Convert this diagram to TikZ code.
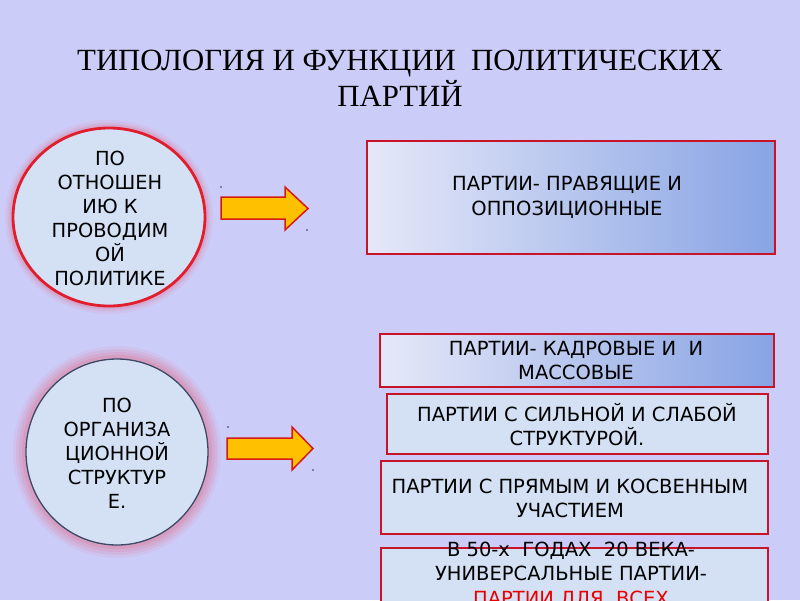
\documentclass[tikz,border=0pt]{standalone}
\usepackage{fontspec}
\setmainfont{DejaVu Sans}
\newfontfamily\titlefont{Liberation Serif}
\usetikzlibrary{shapes.geometric}
\definecolor{bg}{RGB}{204,204,248}
\definecolor{texfill}{RGB}{212,225,245}
\definecolor{boxred}{RGB}{200,20,40}
\definecolor{arrowfill}{RGB}{255,192,0}
\definecolor{arrowline}{RGB}{215,25,20}
\definecolor{gradL}{RGB}{230,232,248}
\definecolor{gradR}{RGB}{136,164,228}
\definecolor{glowpink}{RGB}{225,120,150}
\definecolor{slate}{RGB}{60,72,100}
\definecolor{circred}{RGB}{225,30,45}
\definecolor{dotc}{RGB}{70,40,90}
\definecolor{redtext}{RGB}{235,0,0}
\tikzset{
  bodytext/.style={font=\fontsize{19.5}{24.5}\selectfont, align=center, text=black, inner sep=0pt},
  circtext/.style={font=\fontsize{19.4}{24}\selectfont, align=center, text=black, inner sep=0pt},
  plainbox/.style={draw=boxred, line width=1.6pt, fill=texfill, rectangle, inner sep=0pt},
  gradbox/.style={draw=boxred, line width=1.6pt, rectangle, inner sep=0pt, left color=gradL, right color=gradR},
  blockarrow/.style={fill=arrowfill, draw=arrowline, line width=1.5pt, line join=miter},
  ovalshape/.style={ellipse, inner sep=0pt, fill=texfill},
}
\begin{document}
\begin{tikzpicture}[x=1pt,y=-1pt]
\useasboundingbox (0,0) rectangle (800,600);
\clip (0,0) rectangle (800,600);
\fill[bg] (0,0) rectangle (800,600);

% title
\node[font=\titlefont\fontsize{30.8}{36}\selectfont, align=center, inner sep=0pt] (title) at (400,78)
  {ТИПОЛОГИЯ И ФУНКЦИИ\ \ ПОЛИТИЧЕСКИХ\\ПАРТИЙ};

% circle 1 glow
\foreach \w/\o in {16/0.10,11/0.15,7/0.25}
  \draw[glowpink, opacity=\o, line width=\w pt] (109,217) ellipse [x radius=96, y radius=89];
\node[ovalshape, draw=circred, line width=2.8pt, minimum width=192, minimum height=178] (c1) at (109,217) {};
\node[circtext] (c1t) at (110,218) {ПО\\ОТНОШЕН\\ИЮ К\\ПРОВОДИМ\\ОЙ\\ПОЛИТИКЕ};

% circle 2 glow
\foreach \w/\o in {26/0.10,20/0.15,14/0.2,8/0.25}
  \draw[glowpink, opacity=\o, line width=\w pt] (117,452) ellipse [x radius=91, y radius=93];
\node[ovalshape, draw=slate, line width=1.3pt, minimum width=182, minimum height=186] (c2) at (117,452) {};
\node[circtext] (c2t) at (117,453.5) {ПО\\ОРГАНИЗА\\ЦИОННОЙ\\СТРУКТУР\\Е.};

% arrows
\draw[blockarrow] (221,197) -- (285,197) -- (285,187) -- (308,208.5) -- (285,230) -- (285,219) -- (221,219) -- cycle;
\draw[blockarrow] (227,438) -- (292,438) -- (292,427) -- (313,448.5) -- (292,470) -- (292,459) -- (227,459) -- cycle;
\fill[dotc] (221,187) circle (0.9pt);
\fill[dotc] (307,230) circle (0.9pt);
\fill[dotc] (228,427) circle (0.9pt);
\fill[dotc] (313,470) circle (0.9pt);

% boxes
\node[gradbox, minimum width=408, minimum height=113] (b1) at (571,197.5) {};
\node[bodytext] (b1t) at (567,197.5) {ПАРТИИ- ПРАВЯЩИЕ И\\ОППОЗИЦИОННЫЕ};

\node[gradbox, minimum width=394, minimum height=53] (b2) at (577,360.5) {};
\node[bodytext] (b2t) at (576,360.5) {ПАРТИИ- КАДРОВЫЕ И\ \ И\\МАССОВЫЕ};

\node[plainbox, minimum width=381, minimum height=60] (b3) at (577.5,424) {};
\node[bodytext] (b3t) at (577,424.5) {ПАРТИИ С СИЛЬНОЙ И СЛАБОЙ\\СТРУКТУРОЙ.};

\node[plainbox, minimum width=387, minimum height=73] (b4) at (574.5,497.5) {};
\node[bodytext] (b4t) at (570,498.5) {ПАРТИИ С ПРЯМЫМ И КОСВЕННЫМ\\УЧАСТИЕМ};

\node[plainbox, minimum width=387, minimum height=72] (b5) at (574.5,584) {};
\node[bodytext] (b5t) at (571,575) {В 50-х\ \ ГОДАХ\ \ 20 ВЕКА-\\УНИВЕРСАЛЬНЫЕ ПАРТИИ-\\\textcolor{redtext}{ПАРТИИ ДЛЯ\ \ ВСЕХ}};
\end{tikzpicture}
\end{document}
